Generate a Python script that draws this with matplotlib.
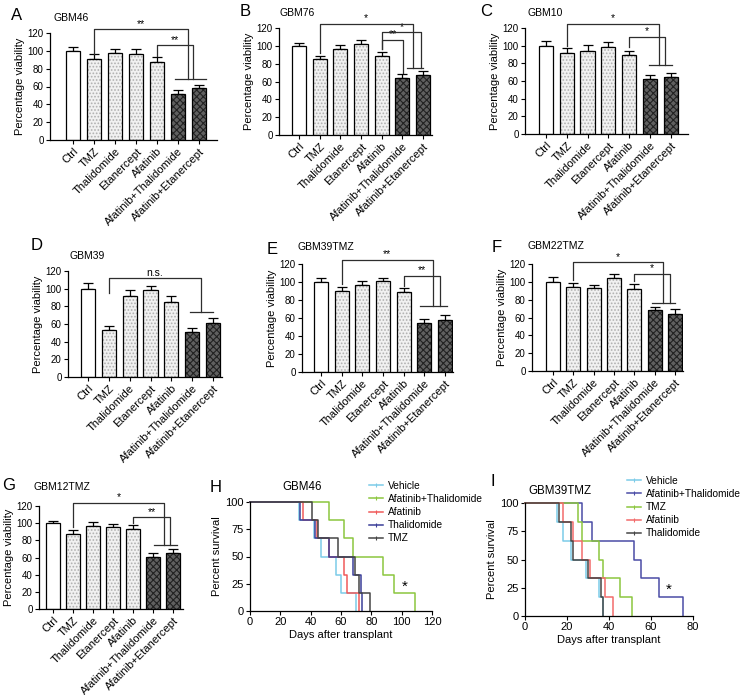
import matplotlib
matplotlib.use('Agg')
import matplotlib.pyplot as plt
from matplotlib.lines import Line2D
import numpy as np

plt.rcParams['font.family'] = ['Liberation Sans', 'DejaVu Sans']
plt.rcParams['hatch.linewidth'] = 0.8

# ---------------- data ----------------
categories = ['Ctrl', 'TMZ', 'Thalidomide', 'Etanercept', 'Afatinib',
              'Afatinib+Thalidomide', 'Afatinib+Etanercept']

viab_A = [100, 91, 98, 97, 87, 52, 58]
err_A = [4, 5, 4, 5, 6, 4, 4]
viab_B = [100, 85, 97, 102, 89, 64, 67]
err_B = [3, 4, 4, 5, 4, 4, 5]
viab_C = [100, 92, 94, 99, 89, 62, 65]
err_C = [5, 5, 7, 5, 5, 5, 4]
viab_D = [100, 53, 92, 99, 85, 51, 61]
err_D = [6, 5, 6, 4, 7, 5, 6]
viab_E = [100, 90, 97, 101, 89, 55, 58]
err_E = [4, 5, 4, 3, 4, 4, 5]
viab_F = [100, 94, 93, 104, 92, 68, 64]
err_F = [5, 5, 4, 5, 6, 4, 5]
viab_G = [100, 87, 97, 95, 93, 61, 65]
err_G = [3, 5, 4, 4, 5, 4, 5]

# significance brackets: (left x, left bottom, top, right x, right bottom, label)
sig_A = [(1, 97, 124, 5.5, 68, '**'), (4, 94, 106, 5.7, 68, '**')]
sig_B = [(1, 92, 125, 5.5, 75, '*'), (4, 96, 115, 5.9, 75, '*'), (4, 96, 107, 5.05, 70, '**')]
sig_C = [(1, 100, 125, 5.45, 78, '*'), (4, 98, 110, 5.7, 78, '*')]
sig_D = [(1, 95, 112, 5.4, 74, 'n.s.')]
sig_E = [(1, 98, 125, 5.4, 73, '**'), (4, 96, 107, 5.75, 73, '**')]
sig_F = [(1, 102, 122, 5.4, 76, '*'), (4, 101, 109, 5.75, 76, '*')]
sig_G = [(1, 95, 124, 5.55, 74, '*'), (4, 100, 107, 5.85, 74, '**')]
# horizontal joining line over combination bars: (y, x from, x to)
join_A = (68, 4.85, 6.35)
join_B = (75, 5.2, 6.0)
join_C = (78, 4.95, 6.05)
join_D = (74, 4.9, 6.0)
join_E = (73, 4.8, 6.1)
join_F = (76, 4.85, 6.0)
join_G = (74, 5.05, 6.2)

# survival (death days, n=6 per group)
groups_H = ['Vehicle', 'Afatinib+Thalidomide', 'Afatinib', 'Thalidomide', 'TMZ']
vehicle_H = [32, 42, 47, 57, 60, 70]
combo_H = [52, 62, 68, 88, 95, 109]
afatinib_H = [35, 44, 52, 62, 64, 72]
thalidomide_H = [33, 43, 52, 68, 73, 74]
tmz_H = [41, 45, 58, 69, 72, 79]

groups_I = ['Vehicle', 'Afatinib+Thalidomide', 'TMZ', 'Afatinib', 'Thalidomide']
vehicle_I = [15, 18, 22, 29, 35, 37]
combo_I = [27, 32, 52, 55, 64, 75]
tmz_I = [25, 27, 35, 37, 45, 51]
afatinib_I = [18, 23, 27, 31, 38, 42]
thalidomide_I = [16, 22, 23, 30, 36, 37]

# ---------------- figure ----------------
W, H = 740, 695
fig = plt.figure(figsize=(W / 100, H / 100), dpi=100)


def box(l, r, t, b):
    return [l / W, 1 - b / H, (r - l) / W, (b - t) / H]


def ftext(x, y, s, **kw):
    fig.text(x / W, 1 - y / H, s, **kw)


LINE = '#2e2e2e'


def style_axes(ax):
    for s in ['top', 'right']:
        ax.spines[s].set_visible(False)
    for s in ['left', 'bottom']:
        ax.spines[s].set_linewidth(0.9)
    ax.tick_params(direction='out', length=3, width=0.8, pad=1.5)


def bar_panel(rect, vals, errs, sigs, join, xlim):
    ax = fig.add_axes(rect)
    x = np.arange(len(categories))
    fills = ['white'] + ['#f1f1f1'] * 4 + ['#606060'] * 2
    hcols = ['white'] + ['#b0b0b0'] * 4 + ['#222222'] * 2
    hatches = [''] + ['.....'] * 4 + ['xxxxx'] * 2
    for i in range(len(x)):
        ax.bar(x[i], vals[i], width=0.68, color=fills[i], edgecolor=hcols[i],
               hatch=hatches[i], linewidth=0, zorder=2)
        ax.bar(x[i], vals[i], width=0.68, fill=False, edgecolor='black',
               linewidth=0.9, zorder=3)
    ax.errorbar(x, vals, yerr=[np.zeros(len(x)), errs], fmt='none', ecolor='black',
                elinewidth=0.9, capsize=3.5, capthick=0.9, zorder=1)
    for (xl, yl0, yt, xr, yr0, lab) in sigs:
        ax.plot([xl, xl, xr, xr], [yl0, yt, yt, yr0], color=LINE, lw=0.9, clip_on=False, zorder=4)
        fs = 7.5 if lab == 'n.s.' else 7.5
        ax.text((xl + xr) / 2, yt + 0.5, lab, ha='center', va='bottom', fontsize=fs,
                clip_on=False)
    yj, x0, x1 = join
    ax.plot([x0, x1], [yj, yj], color=LINE, lw=0.9, clip_on=False, zorder=4)
    ax.set_ylim(0, 120)
    ax.set_xlim(*xlim)
    ax.set_yticks(range(0, 121, 20))
    ax.set_xticks(x)
    ax.set_xticklabels(categories, rotation=45, ha='right', rotation_mode='anchor',
                       fontsize=8)
    ax.tick_params(axis='y', labelsize=7)
    ax.set_ylabel('Percentage viability', fontsize=8, labelpad=2)
    style_axes(ax)
    return ax


bar_panel(box(50, 217, 33, 140), viab_A, err_A, sig_A, join_A, (-1.1, 6.86))
bar_panel(box(279, 432, 28, 135), viab_B, err_B, sig_B, join_B, (-0.97, 6.43))
bar_panel(box(525, 688, 28, 134), viab_C, err_C, sig_C, join_C, (-1.0, 6.82))
bar_panel(box(68, 222, 271, 377), viab_D, err_D, sig_D, join_D, (-0.96, 6.43))
bar_panel(box(302, 453, 264, 372), viab_E, err_E, sig_E, join_E, (-0.92, 6.39))
bar_panel(box(532, 683, 264, 371), viab_F, err_F, sig_F, join_F, (-1.03, 6.39))
bar_panel(box(39, 183, 506, 609), viab_G, err_G, sig_G, join_G, (-0.7, 6.5))


def surv_xy(times):
    n = len(times)
    xs = [0] + list(times)
    ys = [100] + [100 * (1 - (k + 1) / n) for k in range(n)]
    return xs, ys


def surv_panel(rect, series, names, colors, xmax, star, legend_xy):
    ax = fig.add_axes(rect)
    for t, c in zip(series, colors):
        xs, ys = surv_xy(t)
        ax.step(xs, ys, where='post', color=c, lw=1.1, clip_on=False)
    ax.set_xlim(0, xmax)
    ax.set_ylim(0, 100)
    ax.set_xticks(range(0, xmax + 1, 20))
    ax.set_yticks([0, 25, 50, 75, 100])
    ax.tick_params(labelsize=8)
    ax.set_xlabel('Days after transplant', fontsize=8, labelpad=2)
    ax.set_ylabel('Percent survival', fontsize=8, labelpad=2)
    ax.text(star[0], star[1], '*', fontsize=11, ha='center', va='center')
    style_axes(ax)
    handles = [Line2D([0], [0], color=c, lw=1.1, marker='|', markersize=3,
                      markeredgewidth=0.8) for c in colors]
    ax.legend(handles, names, loc='upper left',
              bbox_to_anchor=(legend_xy[0] / W, 1 - legend_xy[1] / H),
              bbox_transform=fig.transFigure, frameon=False, fontsize=7.3,
              handlelength=1.4, handletextpad=0.5, labelspacing=0.3,
              borderpad=0, borderaxespad=0)
    return ax


colors_H = ['#7ccbe8', '#8cc63f', '#f05a5a', '#3b3f98', '#454545']
surv_panel(box(250, 432, 502, 611),
           [vehicle_H, combo_H, afatinib_H, thalidomide_H, tmz_H],
           groups_H, colors_H, 120, (102, 22), (369, 481))

colors_I = ['#7ccbe8', '#4a4ca6', '#8cc63f', '#f26b6b', '#454545']
surv_panel(box(525, 693, 503, 616),
           [vehicle_I, combo_I, tmz_I, afatinib_I, thalidomide_I],
           groups_I, colors_I, 80, (68.5, 23), (627, 476))

# titles
title_kw = dict(fontsize=7.5, va='center', ha='left')
ftext(53, 18, 'GBM46', **title_kw)
ftext(280, 13, 'GBM76', **title_kw)
ftext(527, 13, 'GBM10', **title_kw)
ftext(69, 256, 'GBM39', **title_kw)
ftext(298, 247, 'GBM39TMZ', **title_kw)
ftext(527, 246, 'GBM22TMZ', **title_kw)
ftext(33, 487, 'GBM12TMZ', **title_kw)
stitle_kw = dict(fontsize=8.3, va='center', ha='left')
ftext(282, 487, 'GBM46', **stitle_kw)
ftext(528, 491, 'GBM39TMZ', **stitle_kw)

# panel letters
let_kw = dict(fontsize=12, va='center', ha='left')
for (lx, ly, s) in [(11, 15, 'A'), (240, 12, 'B'), (480, 12, 'C'), (31, 245, 'D'),
                    (267, 250, 'E'), (492, 248, 'F'), (2, 485, 'G'), (210, 488, 'H'),
                    (490, 482, 'I')]:
    ftext(lx, ly, s, **let_kw)

fig.savefig('out.png', dpi=100)
